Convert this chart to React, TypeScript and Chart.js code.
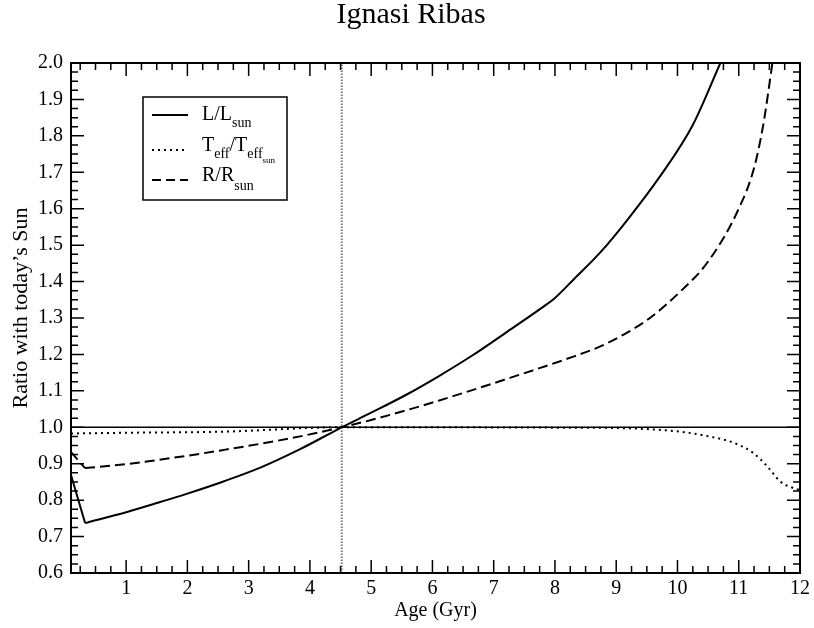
import React, { useEffect, useRef } from "react";
import { Chart, registerables } from "chart.js";

Chart.register(...registerables);

// ---- data ----
const lumAge = [0.1, 0.33, 1.0, 1.5, 2.0, 2.6, 3.2, 3.84, 4.52, 5.0, 5.58, 6.1, 6.65, 7.2, 7.76, 8.0, 8.3, 8.74, 9.18, 9.72, 10.25, 10.7];
const lumRatio = [0.869, 0.737, 0.767, 0.792, 0.818, 0.852, 0.89, 0.94, 1.0, 1.04, 1.09, 1.14, 1.197, 1.26, 1.325, 1.355, 1.405, 1.48, 1.569, 1.69, 1.83, 2.0];

const tempAge = [0.1, 1.0, 2.6, 4.52, 6.0, 8.0, 9.0, 9.5, 10.04, 10.54, 10.91, 11.24, 11.47, 11.68, 11.95, 12.0];
const tempRatio = [0.983, 0.985, 0.988, 1.0, 1.0, 0.999, 0.998, 0.995, 0.988, 0.974, 0.958, 0.929, 0.892, 0.851, 0.83, 0.828];

const radAge = [0.1, 0.33, 1.0, 2.0, 2.6, 3.2, 3.84, 4.52, 5.0, 5.58, 6.1, 6.65, 7.2, 7.76, 8.3, 8.74, 9.2, 9.55, 10.03, 10.5, 11.0, 11.25, 11.4, 11.55];
const radRatio = [0.932, 0.888, 0.899, 0.922, 0.938, 0.955, 0.975, 1.0, 1.02, 1.047, 1.073, 1.102, 1.132, 1.163, 1.194, 1.222, 1.262, 1.3, 1.37, 1.455, 1.6, 1.712, 1.83, 2.0];

const sunAge = 4.52;
const unityRatio = 1.0;

const xLimits = [0.1, 12];
const yLimits = [0.6, 2.0];
const xTickValues = [1, 2, 3, 4, 5, 6, 7, 8, 9, 10, 11, 12];
const yTickValues = [0.6, 0.7, 0.8, 0.9, 1.0, 1.1, 1.2, 1.3, 1.4, 1.5, 1.6, 1.7, 1.8, 1.9, 2.0];

const titleText = "Ignasi Ribas";
const xTitle = "Age (Gyr)";
const yTitle = "Ratio with today\u2019s Sun";
// legend labels as runs of main text / subscripts
const legendLum = ["L/L", "sun"];
const legendTemp = ["T", "eff", "/T", "eff", "sun"];
const legendRad = ["R/R", "sun"];

const SERIF = '"Liberation Serif", "Times New Roman", serif';

const pts = (xs: number[], ys: number[]) => xs.map((x, i) => ({ x, y: ys[i] }));

const decorPlugin = {
  id: "decor",
  afterDatasetsDraw(chart: any) {
    const { ctx, chartArea, scales } = chart;
    const { left, right, top, bottom } = chartArea;
    const x = scales.x;
    const y = scales.y;
    ctx.save();
    ctx.strokeStyle = "#000";
    ctx.lineWidth = 1.5;
    for (let i = Math.ceil(x.min * 4); i <= Math.floor(x.max * 4 + 1e-6); i++) {
      const len = i % 4 === 0 ? 13 : 7;
      const px = x.getPixelForValue(i / 4);
      ctx.beginPath();
      ctx.moveTo(px, bottom);
      ctx.lineTo(px, bottom - len);
      ctx.moveTo(px, top);
      ctx.lineTo(px, top + len);
      ctx.stroke();
    }
    for (let i = Math.round(y.min * 40); i <= Math.round(y.max * 40); i++) {
      const len = i % 4 === 0 ? 13 : 7;
      const py = y.getPixelForValue(i / 40);
      ctx.beginPath();
      ctx.moveTo(left, py);
      ctx.lineTo(left + len, py);
      ctx.moveTo(right, py);
      ctx.lineTo(right - len, py);
      ctx.stroke();
    }
    ctx.lineWidth = 2;
    ctx.strokeRect(left, top, right - left, bottom - top);

    // legend
    ctx.lineWidth = 1.5;
    ctx.strokeRect(143, 97, 144, 103);

    const drawRuns = (runs: { t: string; size: number; dy: number }[], x0: number, base: number) => {
      let cx = x0;
      ctx.fillStyle = "#000";
      ctx.textAlign = "left";
      ctx.textBaseline = "alphabetic";
      for (const r of runs) {
        ctx.font = `${r.size}px ${SERIF}`;
        ctx.fillText(r.t, cx, base + r.dy);
        cx += ctx.measureText(r.t).width;
      }
    };
    const drawSample = (dash: number[], ly: number) => {
      ctx.save();
      ctx.lineWidth = 2;
      ctx.setLineDash(dash);
      ctx.beginPath();
      ctx.moveTo(152, ly);
      ctx.lineTo(188, ly);
      ctx.stroke();
      ctx.restore();
    };
    drawSample([], 115);
    drawRuns([
      { t: legendLum[0], size: 20, dy: 0 },
      { t: legendLum[1], size: 14, dy: 7 },
    ], 202, 120);
    drawSample([2, 4], 150);
    drawRuns([
      { t: legendTemp[0], size: 20, dy: 0 },
      { t: legendTemp[1], size: 14, dy: 7 },
      { t: legendTemp[2], size: 20, dy: 0 },
      { t: legendTemp[3], size: 14, dy: 7 },
      { t: legendTemp[4], size: 9, dy: 12 },
    ], 202, 151);
    drawSample([9, 5], 180);
    drawRuns([
      { t: legendRad[0], size: 20, dy: 0 },
      { t: legendRad[1], size: 14, dy: 9 },
    ], 202, 181);

    // titles
    ctx.fillStyle = "#000";
    ctx.textAlign = "center";
    ctx.textBaseline = "alphabetic";
    ctx.font = `30px ${SERIF}`;
    ctx.fillText(titleText, 411, 23);
    ctx.font = `20px ${SERIF}`;
    ctx.fillText(xTitle, (left + right) / 2, 616);
    ctx.save();
    ctx.translate(27, 308);
    ctx.rotate(-Math.PI / 2);
    ctx.font = `22px ${SERIF}`;
    ctx.fillText(yTitle, 0, 0);
    ctx.restore();

    ctx.restore();
  },
};

export default function App() {
  const ref = useRef<HTMLCanvasElement | null>(null);
  useEffect(() => {
    if (!ref.current) return;
    const lumPts = pts(lumAge, lumRatio);
    const radPts = pts(radAge, radRatio);
    const solid = { borderColor: "#000", borderWidth: 2, pointRadius: 0 };
    const dashed = { ...solid, borderDash: [10, 5] };
    const chart = new Chart(ref.current, {
      type: "line",
      data: {
        datasets: [
          {
            label: "unity",
            data: [{ x: xLimits[0], y: unityRatio }, { x: xLimits[1], y: unityRatio }],
            borderColor: "#000",
            borderWidth: 1.5,
            pointRadius: 0,
          },
          {
            label: "today",
            data: [{ x: sunAge, y: yLimits[0] }, { x: sunAge, y: yLimits[1] }],
            borderColor: "#777",
            borderWidth: 2,
            borderDash: [1.5, 1.5],
            pointRadius: 0,
          },
          { label: "L/Lsun early", data: lumPts.slice(0, 2), ...solid },
          { label: "L/Lsun", data: lumPts.slice(1), ...solid, cubicInterpolationMode: "monotone" },
          {
            label: "Teff/Teffsun",
            data: pts(tempAge, tempRatio),
            ...solid,
            borderDash: [2, 4],
            cubicInterpolationMode: "monotone",
          },
          { label: "R/Rsun early", data: radPts.slice(0, 2), ...dashed },
          { label: "R/Rsun", data: radPts.slice(1), ...dashed, cubicInterpolationMode: "monotone" },
        ],
      },
      options: {
        responsive: false,
        animation: false,
        layout: { padding: { left: 0, top: 63, right: 13, bottom: 0 } },
        plugins: {
          legend: { display: false },
          tooltip: { enabled: false },
          title: { display: false },
        },
        scales: {
          x: {
            type: "linear",
            min: xLimits[0],
            max: xLimits[1],
            grid: { display: false, drawTicks: false },
            border: { display: false },
            afterBuildTicks: (s: any) => {
              s.ticks = xTickValues.map((v) => ({ value: v }));
            },
            afterFit: (s: any) => {
              s.height = 55;
            },
            ticks: {
              color: "#000",
              padding: 4,
              font: { family: SERIF, size: 20 },
              callback: (v: any) => String(v),
            },
          },
          y: {
            type: "linear",
            min: yLimits[0],
            max: yLimits[1],
            grid: { display: false, drawTicks: false },
            border: { display: false },
            afterBuildTicks: (s: any) => {
              s.ticks = yTickValues.map((v) => ({ value: v }));
            },
            afterFit: (s: any) => {
              s.width = 71;
            },
            ticks: {
              color: "#000",
              padding: 8,
              font: { family: SERIF, size: 20 },
              callback: (v: any) => Number(v).toFixed(1),
            },
          },
        },
      },
      plugins: [decorPlugin],
    });
    return () => chart.destroy();
  }, []);
  return (
    <canvas
      ref={ref}
      width={814}
      height={628}
      style={{ position: "fixed", left: 0, top: 0, width: 814, height: 628 }}
    />
  );
}
